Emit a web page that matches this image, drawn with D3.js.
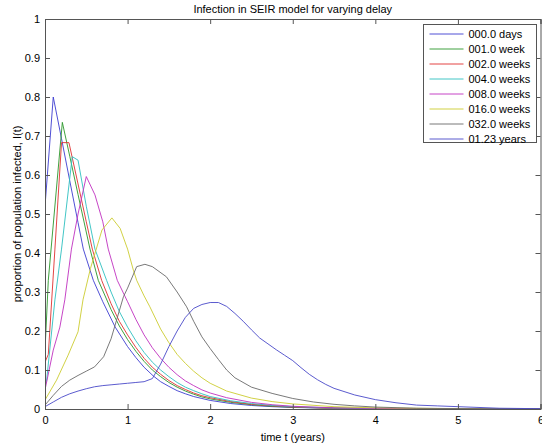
<!DOCTYPE html>
<html>
<head>
<meta charset="utf-8">
<script src="https://cdn.jsdelivr.net/npm/d3@7"></script>
<style>
  body { margin: 0; background: #fff; }
  svg text { font-family: "Liberation Sans", Arial, sans-serif; fill: #000; }
  .axis path, .axis line { stroke: #555; }
</style>
</head>
<body>
<svg id="chart"></svg>
<script>
// each series: [t (years), I(t)] knots
const delay000days = [[0,0.52],[0.1,0.80],[0.2,0.693],[0.3,0.585],[0.4,0.478],[0.464,0.41],[0.585,0.33],[0.7,0.275],[0.85,0.21],[1.0,0.16],[1.1,0.132],[1.2,0.107],[1.31,0.085],[1.4,0.07],[1.5,0.058],[1.6,0.047],[1.7,0.039],[1.8,0.032],[1.9,0.027],[2.0,0.022],[2.25,0.014],[2.5,0.009],[2.75,0.006],[3.0,0.004],[3.5,0.002],[4,0.001],[5,0.0003],[6,0.0001]];
const delay001week = [[0,0.15],[0.04,0.33],[0.21,0.735],[0.3,0.648],[0.4,0.55],[0.545,0.41],[0.645,0.33],[0.8,0.255],[0.9,0.213],[1.0,0.178],[1.1,0.148],[1.2,0.122],[1.3,0.1],[1.4,0.083],[1.5,0.068],[1.6,0.056],[1.7,0.046],[1.8,0.038],[1.9,0.031],[2.0,0.026],[2.25,0.017],[2.5,0.011],[2.75,0.007],[3,0.0045],[3.5,0.002],[4,0.0008],[5,0.0002],[6,0.0001]];
const delay002weeks = [[0,0.12],[0.04,0.14],[0.12,0.41],[0.2,0.683],[0.29,0.683],[0.4,0.577],[0.5,0.48],[0.573,0.41],[0.686,0.33],[0.8,0.27],[0.9,0.225],[1.0,0.19],[1.1,0.158],[1.2,0.13],[1.3,0.107],[1.4,0.089],[1.5,0.073],[1.6,0.06],[1.7,0.05],[1.8,0.041],[1.9,0.034],[2.0,0.029],[2.25,0.019],[2.5,0.012],[2.75,0.008],[3,0.005],[3.5,0.002],[4,0.001],[5,0.0002],[6,0.0001]];
const delay004weeks = [[0,0.06],[0.02,0.074],[0.12,0.28],[0.2,0.41],[0.33,0.647],[0.40,0.638],[0.5,0.52],[0.605,0.41],[0.746,0.33],[0.8,0.3],[0.9,0.25],[1.0,0.21],[1.1,0.175],[1.2,0.145],[1.3,0.12],[1.4,0.1],[1.5,0.083],[1.6,0.068],[1.7,0.056],[1.8,0.047],[1.9,0.039],[2.0,0.032],[2.25,0.021],[2.5,0.014],[2.75,0.009],[3,0.006],[3.5,0.0025],[4,0.001],[5,0.0002],[6,0.0001]];
const delay008weeks = [[0,0.049],[0.1,0.151],[0.18,0.21],[0.24,0.28],[0.32,0.41],[0.4,0.5],[0.5,0.596],[0.605,0.549],[0.7,0.48],[0.766,0.41],[0.875,0.33],[1.0,0.275],[1.1,0.23],[1.2,0.19],[1.3,0.157],[1.4,0.13],[1.5,0.107],[1.6,0.088],[1.7,0.072],[1.8,0.06],[1.9,0.049],[2.0,0.041],[2.2,0.029],[2.5,0.017],[2.75,0.011],[3,0.007],[3.5,0.003],[4,0.0015],[5,0.0004],[6,0.0001]];
const delay016weeks = [[0,0.023],[0.14,0.074],[0.28,0.138],[0.4,0.198],[0.46,0.28],[0.55,0.36],[0.69,0.459],[0.81,0.49],[0.91,0.463],[1.0,0.41],[1.07,0.356],[1.11,0.33],[1.2,0.29],[1.27,0.262],[1.4,0.205],[1.5,0.17],[1.6,0.14],[1.7,0.117],[1.8,0.097],[1.9,0.08],[2.0,0.066],[2.2,0.046],[2.5,0.028],[2.75,0.019],[3.0,0.013],[3.5,0.006],[4,0.003],[5,0.0007],[6,0.0002]];
const delay032weeks = [[0,0.01],[0.1,0.035],[0.2,0.058],[0.3,0.074],[0.4,0.086],[0.5,0.097],[0.6,0.108],[0.71,0.134],[0.8,0.18],[0.95,0.288],[1.0,0.31],[1.11,0.365],[1.21,0.371],[1.3,0.365],[1.47,0.339],[1.6,0.30],[1.715,0.262],[1.8,0.225],[1.9,0.185],[2.0,0.155],[2.1,0.127],[2.2,0.1],[2.3,0.08],[2.5,0.056],[2.75,0.04],[3.0,0.027],[3.25,0.018],[3.5,0.012],[3.75,0.008],[4,0.005],[4.5,0.002],[5,0.001],[6,0.0003]];
const delay123years = [[0,0.006],[0.1,0.018],[0.2,0.03],[0.3,0.039],[0.4,0.046],[0.5,0.052],[0.6,0.057],[0.7,0.06],[0.8,0.062],[0.9,0.064],[1.0,0.066],[1.1,0.068],[1.2,0.07],[1.3,0.078],[1.4,0.115],[1.5,0.16],[1.6,0.2],[1.7,0.235],[1.8,0.258],[1.9,0.268],[2.0,0.273],[2.1,0.273],[2.2,0.263],[2.3,0.245],[2.4,0.225],[2.5,0.203],[2.6,0.182],[2.7,0.167],[2.8,0.152],[2.9,0.138],[3.0,0.124],[3.1,0.106],[3.2,0.089],[3.3,0.075],[3.4,0.063],[3.5,0.053],[3.75,0.036],[4.0,0.024],[4.25,0.016],[4.5,0.01],[4.75,0.008],[5.0,0.006],[5.5,0.002],[6.0,0.0008]];

const labels = ["000.0 days","001.0 week","002.0 weeks","004.0 weeks","008.0 weeks","016.0 weeks","032.0 weeks","01.23 years"];
const colors = ["#3c3cd0","#2a962a","#e03030","#2cc0c0","#c030c0","#cccc30","#6a6a6a","#4848c8"];
const xTicks = [0,1,2,3,4,5,6];
const yTicks = [0,0.1,0.2,0.3,0.4,0.5,0.6,0.7,0.8,0.9,1];

const series = [delay000days, delay001week, delay002weeks, delay004weeks,
                delay008weeks, delay016weeks, delay032weeks, delay123years];

const width = 542, height = 448;
const margin = {top: 19, right: 1.5, bottom: 39, left: 45};
const w = width - margin.left - margin.right;
const h = height - margin.top - margin.bottom;

const svg = d3.select('#chart').attr('width', width).attr('height', height);

const x = d3.scaleLinear().domain([0, 6]).range([0, w]);
const y = d3.scaleLinear().domain([0, 1]).range([h, 0]);

const g = svg.append('g').attr('transform', `translate(${margin.left},${margin.top})`);

g.append('defs').append('clipPath').attr('id', 'clip')
  .append('rect').attr('width', w).attr('height', h);

// lines
const line = d3.line().x(d => x(d[0])).y(d => y(d[1]));
g.append('g').attr('clip-path', 'url(#clip)')
  .selectAll('path')
  .data(series)
  .join('path')
  .attr('d', line)
  .attr('fill', 'none')
  .attr('stroke', (d, i) => colors[i])
  .attr('stroke-width', 0.9);

// axes, ticks point inward like matlab
const tk = 5;
g.append('g').attr('class', 'axis').attr('transform', `translate(0,${h})`)
  .call(d3.axisBottom(x).tickValues(xTicks).tickSize(-tk).tickPadding(7).tickFormat(d3.format('d')))
  .call(s => s.selectAll('text').attr('font-size', 11));
g.append('g').attr('class', 'axis')
  .call(d3.axisLeft(y).tickValues(yTicks).tickSize(-tk).tickPadding(5).tickFormat(d => d === 0 || d === 1 ? d : d3.format('.1f')(d)))
  .call(s => s.selectAll('text').attr('font-size', 11));
g.append('g').attr('class', 'axis')
  .call(d3.axisTop(x).tickValues(xTicks).tickSize(-tk).tickFormat(''));
g.append('g').attr('class', 'axis').attr('transform', `translate(${w},0)`)
  .call(d3.axisRight(y).tickValues(yTicks).tickSize(-tk).tickFormat(''));
g.selectAll('.axis .domain').attr('stroke', '#555');

// titles
svg.append('text').attr('x', margin.left + w / 2).attr('y', 13)
  .attr('text-anchor', 'middle').attr('font-size', 11)
  .text('Infection in SEIR model for varying delay');
svg.append('text').attr('x', margin.left + w / 2).attr('y', 441)
  .attr('text-anchor', 'middle').attr('font-size', 11)
  .text('time t (years)');
svg.append('text')
  .attr('transform', `translate(21,${margin.top + h / 2}) rotate(-90)`)
  .attr('text-anchor', 'middle').attr('font-size', 11)
  .text('proportion of population infected, I(t)');

// legend
const lg = svg.append('g').attr('transform', 'translate(423.5,24.5)');
lg.append('rect').attr('width', 113).attr('height', 118)
  .attr('fill', '#fff').attr('stroke', '#555');
const item = lg.selectAll('.item').data(labels).join('g')
  .attr('class', 'item')
  .attr('transform', (d, i) => `translate(0,${9.5 + i * 15})`);
item.append('line').attr('x1', 6).attr('x2', 40)
  .attr('stroke', (d, i) => colors[i]).attr('stroke-width', 0.9);
item.append('text').attr('x', 45).attr('y', 4).attr('font-size', 11).text(d => d);
</script>
</body>
</html>
